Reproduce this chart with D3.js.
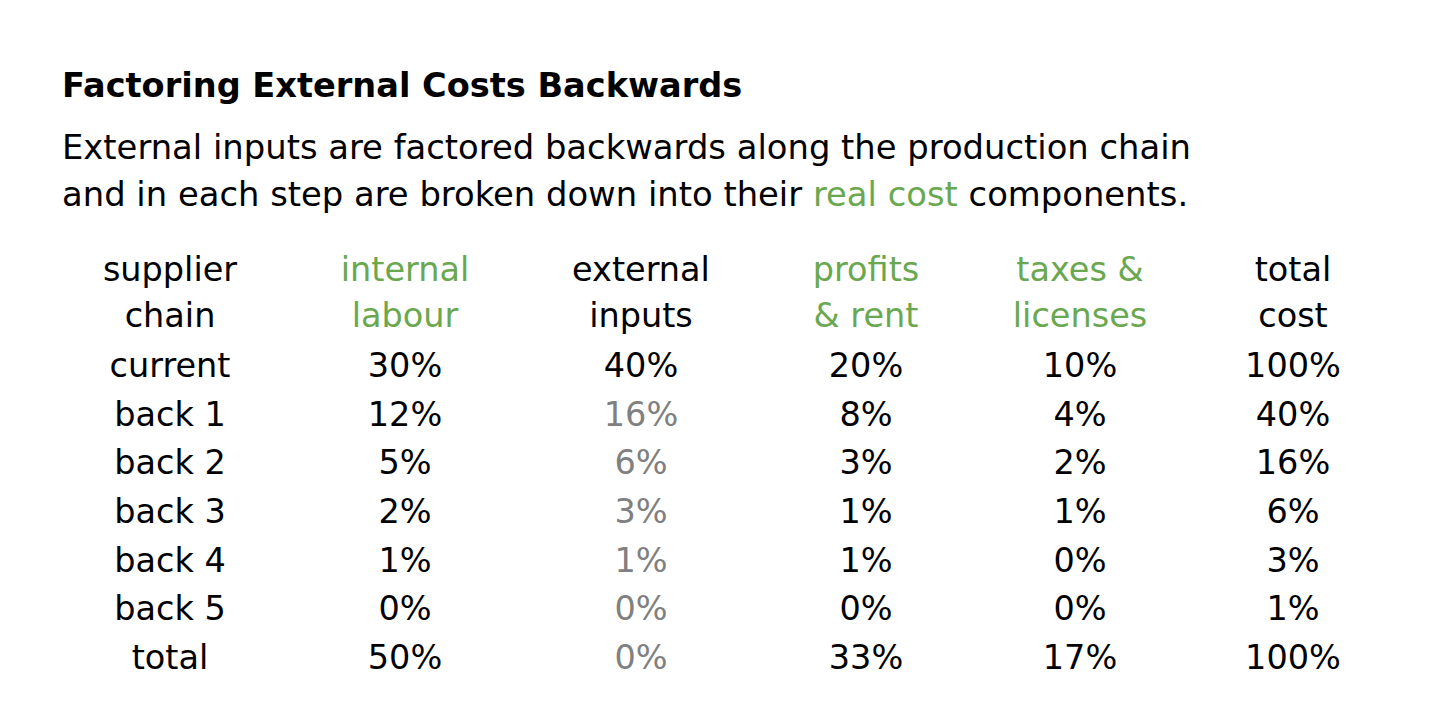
<!DOCTYPE html>
<html>
<head>
<meta charset="utf-8">
<script src="https://cdn.jsdelivr.net/npm/d3@7"></script>
<style>
  body { margin: 0; background: #fff; }
  text { font-family: "DejaVu Sans", Verdana, sans-serif; }
</style>
</head>
<body>
<script>
// table content
const title = "Factoring External Costs Backwards";
const subtitle1 = "External inputs are factored backwards along the production chain";
const subtitle2 = ["and in each step are broken down into their ", "real cost", " components."];

const columns = ["chain", "labour", "external", "profits", "taxes", "total"];
const headerTop = ["supplier", "internal", "external", "profits", "taxes &", "total"];
const headerBottom = ["chain", "labour", "inputs", "& rent", "licenses", "cost"];
const greenColumns = ["labour", "profits", "taxes"];

const rowLabels = ["current", "back 1", "back 2", "back 3", "back 4", "back 5", "total"];
const labour = [30, 12, 5, 2, 1, 0, 50];
const external = [40, 16, 6, 3, 1, 0, 0];
const profits = [20, 8, 3, 1, 1, 0, 33];
const taxes = [10, 4, 2, 1, 0, 0, 17];
const totalCost = [100, 40, 16, 6, 3, 1, 100];

const width = 1456;
const height = 728;
const green = "#6aa84f";
const grey = "#808080";
const fontSize = "33.5px";

const svg = d3.select("body").append("svg")
    .attr("width", width)
    .attr("height", height);

// title and description
svg.append("text")
    .attr("x", 62).attr("y", 97)
    .style("font-size", "33.6px")
    .style("font-weight", "bold")
    .text(title);

svg.append("text")
    .attr("x", 62).attr("y", 159)
    .style("font-size", "33.8px")
    .text(subtitle1);

const sub2 = svg.append("text")
    .attr("x", 62).attr("y", 206)
    .style("font-size", "33.8px");
sub2.selectAll("tspan")
    .data(subtitle2)
    .enter().append("tspan")
    .style("fill", (d, i) => i === 1 ? green : "#000")
    .text(d => d);

// column positions
const x = d3.scaleOrdinal()
    .domain(columns)
    .range([170, 405, 641, 866, 1080, 1293]);

const y = d3.scalePoint()
    .domain(rowLabels)
    .range([377, 669]);

const headerY = [281, 327];

// header rows
[headerTop, headerBottom].forEach((line, li) => {
    svg.selectAll(".head" + li)
        .data(line)
        .enter().append("text")
        .attr("class", "head" + li)
        .attr("x", (d, i) => x(columns[i]))
        .attr("y", headerY[li])
        .attr("text-anchor", "middle")
        .style("font-size", fontSize)
        .style("fill", (d, i) => greenColumns.includes(columns[i]) ? green : "#000")
        .text(d => d);
});

// body rows
const rows = rowLabels.map((label, i) => ({
    label: label,
    cells: [
        { col: "labour", v: labour[i] },
        { col: "external", v: external[i] },
        { col: "profits", v: profits[i] },
        { col: "taxes", v: taxes[i] },
        { col: "total", v: totalCost[i] }
    ].map(c => Object.assign(c, { label: label }))
}));

const row = svg.selectAll(".row")
    .data(rows)
    .enter().append("g")
    .attr("class", "row")
    .attr("transform", d => `translate(0,${y(d.label)})`);

row.append("text")
    .attr("x", x("chain"))
    .attr("text-anchor", "middle")
    .style("font-size", fontSize)
    .text(d => d.label);

row.selectAll(".cell")
    .data(d => d.cells)
    .enter().append("text")
    .attr("class", "cell")
    .attr("x", d => x(d.col))
    .attr("text-anchor", "middle")
    .style("font-size", fontSize)
    // external inputs are greyed out once they have been factored back
    .style("fill", d => (d.col === "external" && d.label !== "current") ? grey : "#000")
    .text(d => d.v + "%");
</script>
</body>
</html>
